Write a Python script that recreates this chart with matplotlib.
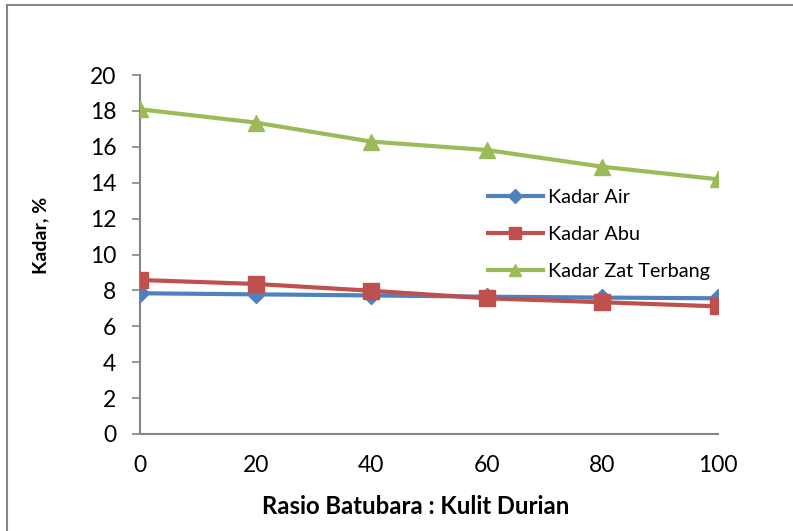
import matplotlib
matplotlib.use("Agg")
import matplotlib.pyplot as plt
from matplotlib.lines import Line2D

rasio = [0, 20, 40, 60, 80, 100]
kadar_air = [7.84, 7.78, 7.72, 7.65, 7.60, 7.56]
kadar_abu = [8.58, 8.36, 7.98, 7.56, 7.34, 7.11]
kadar_zat_terbang = [18.09, 17.35, 16.29, 15.82, 14.89, 14.19]
y_ticks = [0, 2, 4, 6, 8, 10, 12, 14, 16, 18, 20]
x_ticks = [0, 20, 40, 60, 80, 100]

plt.rcParams['font.family'] = ['Lato', 'DejaVu Sans']

W, H = 793, 531
fig = plt.figure(figsize=(W / 100, H / 100), dpi=100)
ax = fig.add_axes([140 / W, 1 - 434 / H, (718 - 140) / W, (434 - 75) / H])

ax.plot(rasio, kadar_air, color='#4F81BD', lw=3.0, marker='D', ms=9,
        label='Kadar Air', zorder=3)
ax.plot(rasio, kadar_abu, color='#C0504D', lw=3.0, marker='s', ms=11,
        label='Kadar Abu', zorder=4)
ax.plot(rasio, kadar_zat_terbang, color='#9BBB59', lw=3.0, marker='^', ms=12,
        label='Kadar Zat Terbang', zorder=3)

ax.set_xlim(0, 100)
ax.set_ylim(0, 20)
ax.set_xticks(x_ticks)
ax.set_yticks(y_ticks)
ax.tick_params(axis='x', length=0, pad=15, labelsize=16.5)
ax.tick_params(axis='y', length=6, width=1.2, color='#868686', pad=11, labelsize=16.5)
for s in ['top', 'right']:
    ax.spines[s].set_visible(False)
for s in ['left', 'bottom']:
    ax.spines[s].set_color('#868686')
    ax.spines[s].set_linewidth(1.5)
    ax.spines[s].set_clip_on(False)

ax.set_xlabel('Rasio Batubara : Kulit Durian', fontsize=17.2, fontweight='bold')
ax.set_ylabel('Kadar, %', fontsize=14, fontweight='bold')
ax.yaxis.set_label_coords(-0.172, (434 - 235) / (434 - 75))
ax.xaxis.set_label_coords((416 - 140) / (718 - 140), -(507 - 434) / (434 - 75))
ax.xaxis.label.set_va('center')
ax.yaxis.label.set_va('center')

ax.legend(loc='upper left', bbox_to_anchor=((480 - 140) / (718 - 140), (434 - 181) / (434 - 75)),
          frameon=False, fontsize=14.3, handlelength=2.77, handletextpad=0.25,
          labelspacing=1.0, borderaxespad=0, markerscale=0.75)

# figure border (left and top visible)
fig.add_artist(Line2D([7 / W, 7 / W], [0, 1 - 5 / H], transform=fig.transFigure,
                      color='#868686', lw=1.5))
fig.add_artist(Line2D([7 / W, 1], [1 - 5 / H, 1 - 5 / H], transform=fig.transFigure,
                      color='#868686', lw=1.5))

fig.savefig('out.png', dpi=100)
